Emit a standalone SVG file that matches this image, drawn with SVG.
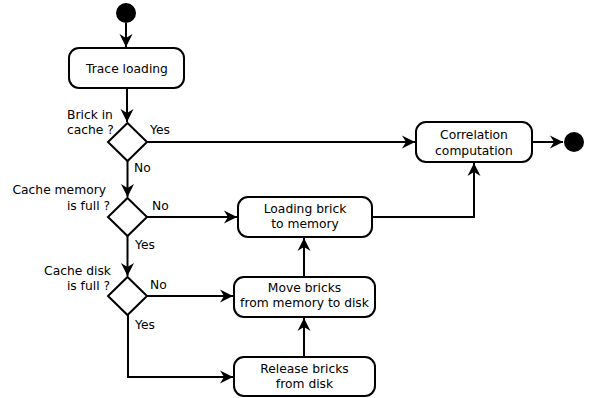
<svg xmlns="http://www.w3.org/2000/svg" width="589" height="398" viewBox="0 0 589 398">
<style>
text{font-family:"DejaVu Sans",sans-serif;font-size:12.3px;fill:#000}
.box{fill:#fff;stroke:#000;stroke-width:2}
.dia{fill:#fff;stroke:#000;stroke-width:2}
.c{text-anchor:middle}
.e{text-anchor:end}
.ln{fill:none;stroke:#000;stroke-width:2}
</style>
<defs>
<marker id="ah" markerUnits="userSpaceOnUse" markerWidth="16" markerHeight="16" viewBox="-13 -8 16 16" refX="0" refY="0" orient="auto">
<path d="M0,0 L-13,-6.5 L-9,0 L-13,6.5 Z" fill="#000"/>
</marker>
</defs>
<rect width="589" height="398" fill="#fff"/>
<g id="connectors">
<path class="ln" d="M126,23 V47" marker-end="url(#ah)"/>
<path class="ln" d="M127,88 V122" marker-end="url(#ah)"/>
<path class="ln" d="M147,142 H415" marker-end="url(#ah)"/>
<path class="ln" d="M127.5,161 V197" marker-end="url(#ah)"/>
<path class="ln" d="M147,217 H237" marker-end="url(#ah)"/>
<path class="ln" d="M127.5,236 V276" marker-end="url(#ah)"/>
<path class="ln" d="M147,296 H233" marker-end="url(#ah)"/>
<path class="ln" d="M128,315 V377 H233" marker-end="url(#ah)"/>
<path class="ln" d="M372,217 H474 V163" marker-end="url(#ah)"/>
<path class="ln" d="M532,142 H563" marker-end="url(#ah)"/>
<path class="ln" d="M304,357 V318" marker-end="url(#ah)"/>
<path class="ln" d="M304,277 V238" marker-end="url(#ah)"/>
</g>
<g id="start"><circle cx="126" cy="13" r="10" fill="#000"/></g>
<g id="trace"><rect class="box" x="69" y="48" width="115" height="40" rx="10"/><text class="c" x="127" y="73">Trace loading</text></g>
<g id="d1"><path class="dia" d="M127.5,123 L147,142 L127.5,161 L108,142 Z"/>
<text x="67" y="119">Brick in</text><text x="67" y="134">cache ?</text>
<text x="150" y="134">Yes</text><text x="134" y="172">No</text></g>
<g id="d2"><path class="dia" d="M127.5,198 L147,217 L127.5,236 L108,217 Z"/>
<text class="e" x="106" y="194">Cache memory</text><text class="e" x="110" y="210">is full ?</text>
<text x="152" y="210">No</text><text x="135" y="249">Yes</text></g>
<g id="d3"><path class="dia" d="M127.5,277 L147,296 L127.5,315 L108,296 Z"/>
<text class="e" x="111" y="275">Cache disk</text><text class="e" x="110" y="290">is full ?</text>
<text x="150" y="289">No</text><text x="135" y="329">Yes</text></g>
<g id="correlation"><rect class="box" x="416" y="122" width="116" height="40" rx="10"/><text class="c" x="474" y="139">Correlation</text><text class="c" x="474" y="155">computation</text></g>
<g id="end"><circle cx="574" cy="142" r="10" fill="#000"/></g>
<g id="loading"><rect class="box" x="238" y="197" width="134" height="40" rx="10"/><text class="c" x="305" y="213">Loading brick</text><text class="c" x="305" y="228">to memory</text></g>
<g id="move"><rect class="box" x="234" y="277" width="141" height="40" rx="10"/><text class="c" x="304.5" y="292">Move bricks</text><text class="c" x="304.5" y="307">from memory to disk</text></g>
<g id="release"><rect class="box" x="234" y="357" width="141" height="39" rx="10"/><text class="c" x="304.5" y="373">Release bricks</text><text class="c" x="304.5" y="388">from disk</text></g>
</svg>
